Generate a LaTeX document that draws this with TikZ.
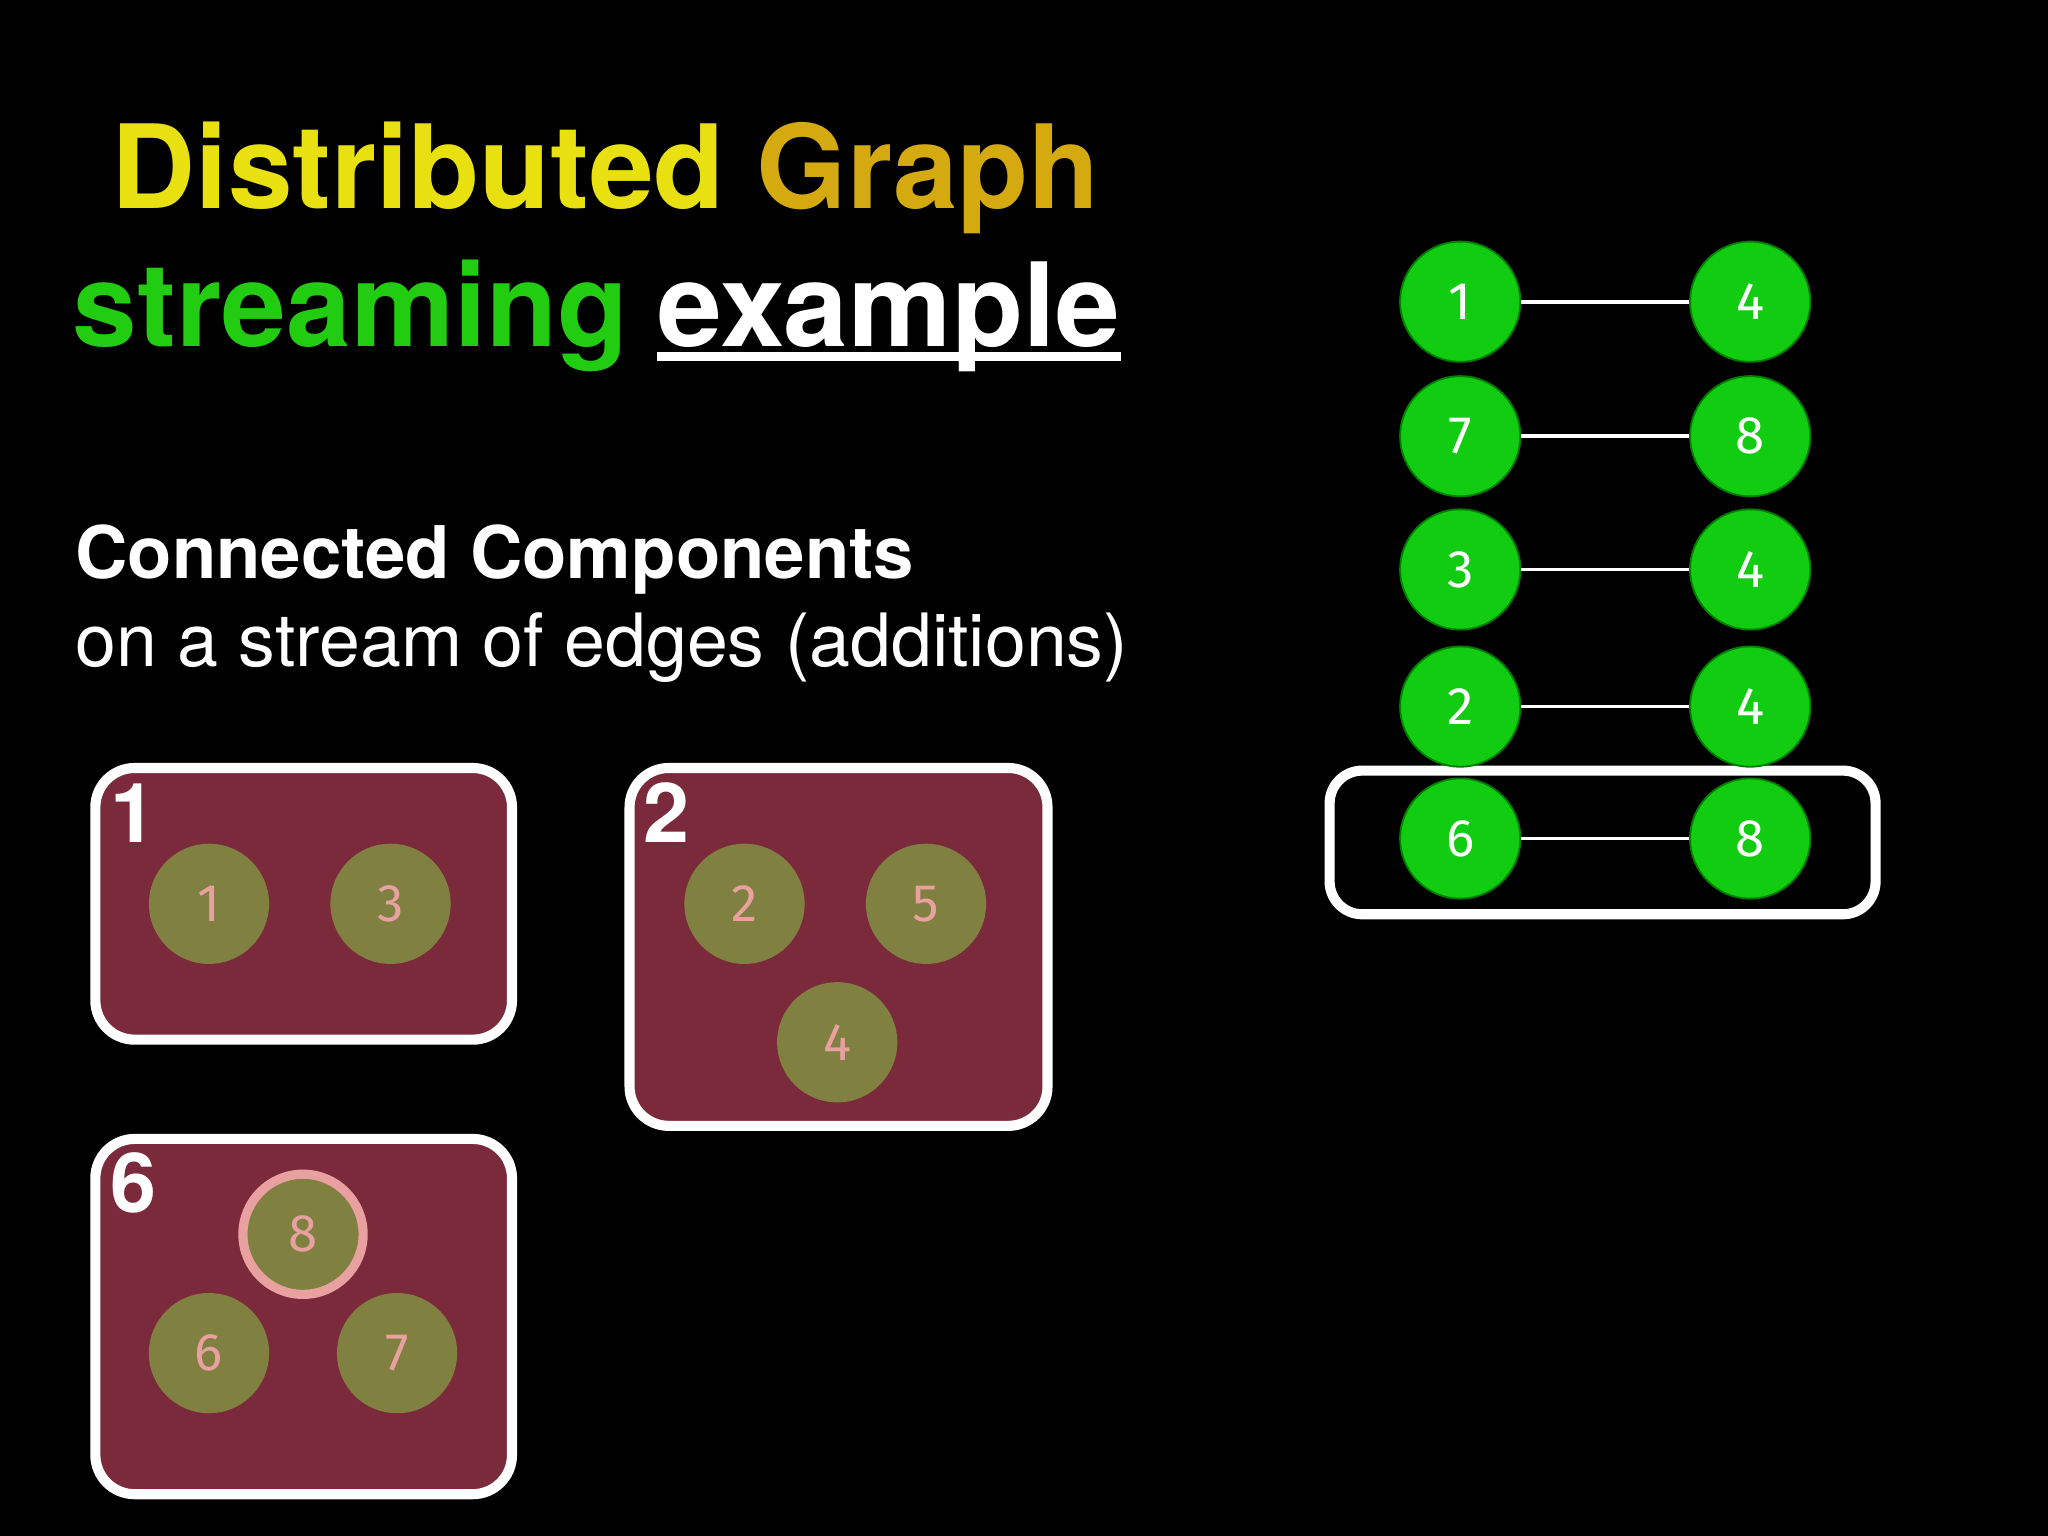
\documentclass[tikz,border=0pt]{standalone}
\usepackage{fontspec}
\setmainfont{TeX Gyre Heros}
\newfontfamily\numfont{Fira Sans}
\definecolor{boxred}{HTML}{7B2A3C}
\definecolor{olive}{HTML}{808040}
\definecolor{pinktxt}{HTML}{E8A0A0}
\definecolor{gr}{HTML}{11CC11}
\definecolor{yel}{HTML}{E8E010}
\definecolor{gold}{HTML}{D4AA10}
\definecolor{sgreen}{HTML}{22CC11}
\begin{document}
\begin{tikzpicture}[x=0.01cm,y=-0.01cm,
 part/.style={draw=white,line width=2.2pt,fill=boxred,rounded corners=0.3cm},
 vtx/.style={circle,fill=olive,minimum size=0.92cm,inner sep=0pt,text=pinktxt,font=\numfont\fontsize{11.5}{11.5}\selectfont},
 gv/.style={circle,fill=gr,draw=green!50!black,minimum size=0.92cm,inner sep=0pt,text=white,font=\numfont\fontsize{11.5}{11.5}\selectfont},
 plab/.style={anchor=base west,text=white,font=\bfseries\fontsize{18}{18}\selectfont,inner sep=0pt},
 edge/.style={draw=white,line width=0.8pt}]
\fill[black] (0,0) rectangle (1568,1176);
\useasboundingbox (0,0) rectangle (1568,1176);
% title
\node[anchor=base west,inner sep=0pt,font=\bfseries\fontsize{25.3}{25.3}\selectfont] (t1) at (85,160) {\textcolor{yel}{Distributed} \textcolor{gold}{Graph}};
\node[anchor=base west,inner sep=0pt,font=\bfseries\fontsize{25.3}{25.3}\selectfont] (t2) at (55,265) {\textcolor{sgreen}{streaming}};
\node[anchor=base west,inner sep=0pt,font=\bfseries\fontsize{25.3}{25.3}\selectfont,text=white] (t3) at (503,265) {example};
\draw[white,line width=2pt] (503,273) -- (858,273);
\node[anchor=base west,inner sep=0pt,text=white,font=\bfseries\fontsize{15.8}{15.8}\selectfont] (s1) at (57,443) {Connected Components};
\node[anchor=base west,inner sep=0pt,text=white,font=\fontsize{16}{16}\selectfont] (s2) at (57,510) {on a stream of edges (additions)};
% partitions
\draw[part] (73,588) rectangle (392,796);
\node[plab] (l1) at (84,645) {1};
\node[vtx] (a1) at (160,692) {1};
\node[vtx] (a3) at (299,692) {3};
\draw[part] (482,588) rectangle (802,862);
\node[plab] (l2) at (492,645) {2};
\node[vtx] (b2) at (570,692) {2};
\node[vtx] (b5) at (709,692) {5};
\node[vtx] (b4) at (641,798) {4};
\draw[part] (73,872) rectangle (392,1144);
\node[plab] (l6) at (84,928) {6};
\node[vtx,draw=pinktxt,line width=2pt] (c8) at (232,945) {8};
\node[vtx] (c6) at (160,1036) {6};
\node[vtx] (c7) at (304,1036) {7};
% stream
\draw[draw=white,line width=2.2pt,rounded corners=0.25cm] (1018,590) rectangle (1436,700);
\foreach \y/\a/\b [count=\i] in {231/1/4,334/7/8,436/3/4,541/2/4,642/6/8}{
 \node[gv] (L\i) at (1118,\y) {\a};
 \node[gv] (R\i) at (1340,\y) {\b};
 \draw[edge] (L\i) -- (R\i);
}
\end{tikzpicture}
\end{document}
